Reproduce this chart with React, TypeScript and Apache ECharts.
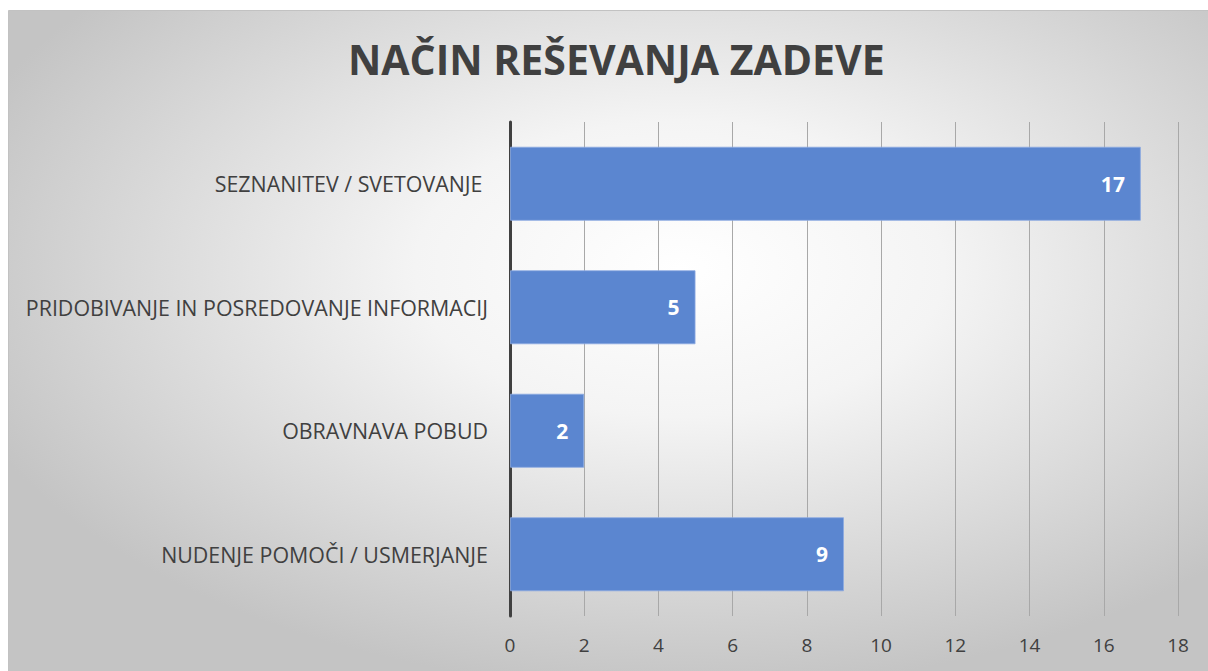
import React, { useEffect, useRef } from "react";
import * as echarts from "echarts";

const categories = [
  "SEZNANITEV / SVETOVANJE ",
  "PRIDOBIVANJE IN POSREDOVANJE INFORMACIJ",
  "OBRAVNAVA POBUD",
  "NUDENJE POMOČI / USMERJANJE",
];
const values = [17, 5, 2, 9];
const titleText = "NAČIN REŠEVANJA ZADEVE";
const axisMin = 0;
const axisMax = 18;
const axisInterval = 2;

const FONT = "'Open Sans', 'Noto Sans', sans-serif";

export default function App() {
  const ref = useRef<HTMLDivElement>(null);
  useEffect(() => {
    if (!ref.current) return;
    const chart = echarts.init(ref.current, null, { renderer: "svg" });
    chart.setOption({
      animation: false,
      graphic: [
        {
          type: "rect",
          z: -10,
          silent: true,
          shape: { x: 8.5, y: 10.5, width: 1220, height: 680 },
          style: {
            fill: {
              type: "radial",
              x: 0.55,
              y: 0.38,
              r: 0.62,
              colorStops: [
                { offset: 0, color: "#ffffff" },
                { offset: 0.35, color: "#f4f4f4" },
                { offset: 1, color: "#c4c4c4" },
              ],
            },
            stroke: "#c2c2c2",
            lineWidth: 1,
          },
        },
      ],
      title: {
        text: titleText,
        left: 343,
        top: 33,
        textStyle: {
          fontFamily: FONT,
          fontWeight: "bold",
          fontSize: 41,
          color: "#404040",
        },
      },
      grid: { left: 510, right: 30, top: 122, bottom: 55, containLabel: false },
      xAxis: {
        type: "value",
        min: axisMin,
        max: axisMax,
        interval: axisInterval,
        axisLine: { show: false },
        axisTick: { show: false },
        axisLabel: {
          margin: 19,
          fontFamily: FONT,
          fontSize: 19,
          color: "#404040",
        },
        splitLine: { show: true, lineStyle: { color: "#a8a8a8", width: 1 } },
      },
      yAxis: {
        type: "category",
        data: categories,
        inverse: true,
        axisLine: { show: true, lineStyle: { color: "#404040", width: 3 } },
        axisTick: { show: false },
        axisLabel: {
          margin: 22,
          fontFamily: FONT,
          fontSize: 21.4,
          color: "#404040",
        },
      },
      series: [
        {
          type: "bar",
          data: values,
          barCategoryGap: "40%",
          itemStyle: {
            color: "#5b86d0",
            borderColor: "rgba(140,170,225,0.8)",
            borderWidth: 1,
          },
          label: {
            show: true,
            position: "insideRight",
            distance: 16,
            fontFamily: FONT,
            fontWeight: "bold",
            fontSize: 21,
            color: "#ffffff",
          },
        },
      ],
    });
    return () => chart.dispose();
  }, []);
  return (
    <div
      ref={ref}
      style={{ position: "absolute", left: 0, top: 0, width: 1208, height: 671 }}
    />
  );
}
